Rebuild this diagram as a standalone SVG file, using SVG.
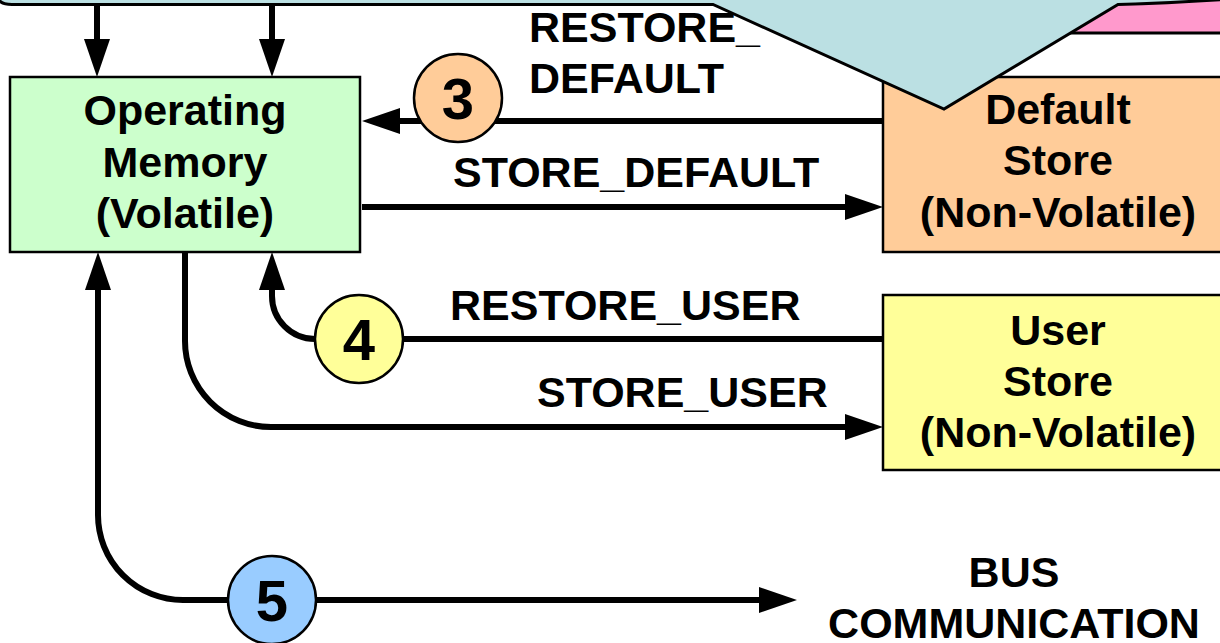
<svg xmlns="http://www.w3.org/2000/svg" width="1220" height="643" viewBox="0 0 1220 643">
<style>
  .lbl { font-family: "Liberation Sans", Arial, Helvetica, sans-serif; font-weight: bold; font-size: 43px; fill: #000; }
  .mid { text-anchor: middle; }
  .num { font-family: "Liberation Sans", Arial, Helvetica, sans-serif; font-weight: bold; font-size: 58px; fill: #000; text-anchor: middle; }
  .box { stroke: #000; stroke-width: 2.5; }
  .conn { fill: none; stroke: #000; stroke-width: 6; }
  .badge { stroke: #000; stroke-width: 2.5; }
</style>
<defs>
  <marker id="ah" markerUnits="userSpaceOnUse" viewBox="0 0 38 26" markerWidth="38" markerHeight="26" refX="18" refY="13" orient="auto-start-reverse">
    <path d="M0,0 L38,13 L0,26 Z" fill="#000"/>
  </marker>
</defs>
<rect width="1220" height="643" fill="#fff"/>

<g id="pink-shape">
  <rect x="1060" y="-20" width="180" height="53" fill="#ff99cc" stroke="#000" stroke-width="3"/>
</g>

<g id="connectors">
  <path class="conn" d="M97,6 V57" marker-end="url(#ah)"/>
  <path class="conn" d="M272,6 V57" marker-end="url(#ah)"/>
  <path class="conn" d="M883,121 H382" marker-end="url(#ah)"/>
  <path class="conn" d="M362,207 H863" marker-end="url(#ah)"/>
  <path class="conn" d="M883,339 H315 A43,43 0 0 1 272,296 V272" marker-end="url(#ah)"/>
  <path class="conn" d="M185,252 V341 A86,86 0 0 0 271,427 H863" marker-end="url(#ah)"/>
  <path class="conn" d="M98,272 V515 A85,85 0 0 0 183,600 H777" marker-start="url(#ah)" marker-end="url(#ah)"/>
</g>

<g id="operating-memory">
  <rect class="box" x="10" y="77" width="350" height="175" fill="#ccffcc"/>
  <text class="lbl mid" x="185" y="125">Operating</text>
  <text class="lbl mid" x="185" y="177">Memory</text>
  <text class="lbl mid" x="185" y="228">(Volatile)</text>
</g>

<g id="default-store">
  <rect class="box" x="883" y="77" width="360" height="175" fill="#ffcc99"/>
  <text class="lbl mid" x="1058" y="124">Default</text>
  <text class="lbl mid" x="1058" y="175">Store</text>
  <text class="lbl mid" x="1058" y="227">(Non-Volatile)</text>
</g>

<g id="user-store">
  <rect class="box" x="883" y="295" width="360" height="175" fill="#ffff99"/>
  <text class="lbl mid" x="1058" y="345">User</text>
  <text class="lbl mid" x="1058" y="396">Store</text>
  <text class="lbl mid" x="1058" y="447">(Non-Volatile)</text>
</g>

<g id="badge-3">
  <circle class="badge" cx="458" cy="98" r="44" fill="#ffcc99"/>
  <text class="num" x="458" y="119">3</text>
</g>
<g id="badge-4">
  <circle class="badge" cx="359" cy="339" r="44" fill="#ffff99"/>
  <text class="num" x="359" y="360">4</text>
</g>
<g id="badge-5">
  <circle class="badge" cx="272" cy="600" r="44" fill="#99ccff"/>
  <text class="num" x="272" y="621">5</text>
</g>

<g id="callout">
  <path d="M-2,-30 L-2,-4 Q-2,4.5 12,4.5 L713,4.5 L944,109 L1118,4.5 Q1170,3 1230,-1 L1230,-30 Z" fill="#bbe0e3" stroke="#000" stroke-width="3" stroke-linejoin="miter"/>
</g>

<g id="labels">
  <text class="lbl" x="529" y="42">RESTORE_</text>
  <text class="lbl" x="529" y="93">DEFAULT</text>
  <text class="lbl" x="453" y="187">STORE_DEFAULT</text>
  <text class="lbl" x="450" y="320">RESTORE_USER</text>
  <text class="lbl" x="537" y="407">STORE_USER</text>
</g>

<g id="bus-communication">
  <text class="lbl mid" x="1014" y="587">BUS</text>
  <text class="lbl mid" x="1014" y="638">COMMUNICATION</text>
</g>
</svg>
